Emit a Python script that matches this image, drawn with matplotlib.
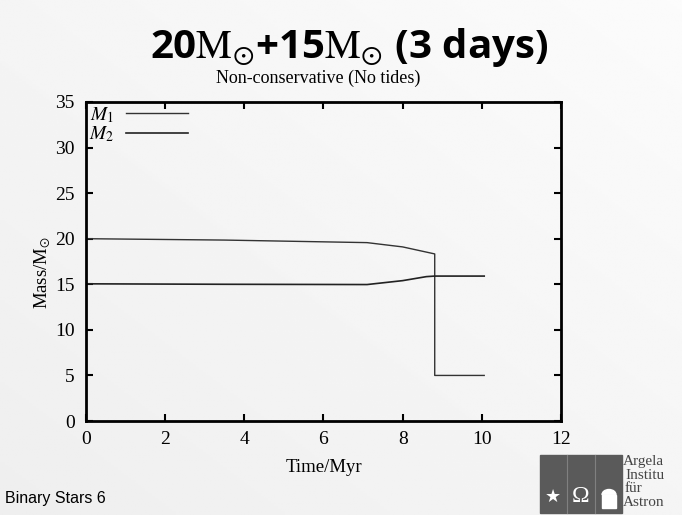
import numpy as np
import matplotlib
matplotlib.use("Agg")
import matplotlib.pyplot as plt
from matplotlib.patches import Rectangle, Wedge

# data
time_m1 = [0.0, 3.5, 7.1, 8.0, 8.81, 8.81, 8.9, 10.06]
mass_m1 = [20.0, 19.85, 19.57, 19.1, 18.33, 5.0, 5.0, 5.0]
time_m2 = [0.0, 3.5, 7.1, 8.0, 8.6, 8.81, 10.06]
mass_m2 = [15.05, 15.0, 14.97, 15.4, 15.84, 15.9, 15.9]
xticks = [0, 2, 4, 6, 8, 10, 12]
yticks = [0, 5, 10, 15, 20, 25, 30, 35]

serif = "Liberation Serif"
plt.rcParams['mathtext.fontset'] = 'stix'

fig = plt.figure(figsize=(6.82, 5.15), dpi=100)

# slide background (soft gradient)
bg = fig.add_axes([0, 0, 1, 1], zorder=-10)
gx, gy = np.meshgrid(np.linspace(0, 1, 200), np.linspace(0, 1, 200))
grad = 0.985 - 0.05 * (1 - gx) * 0.5 - 0.05 * gy * 0.5
bg.imshow(grad, cmap="gray", vmin=0, vmax=1, aspect="auto", extent=[0, 1, 0, 1])
bg.set_axis_off()

ax = fig.add_axes([0.126, 0.1825, 0.6966, 0.6195])
ax.patch.set_alpha(0)
ax.plot(time_m1, mass_m1, color="#333333", lw=1.0, label=r"$M_1$")
ax.plot(time_m2, mass_m2, color="#222222", lw=1.2, label=r"$M_2$")

ax.set_xlim(0, 12)
ax.set_ylim(0, 35)
ax.set_xticks(xticks)
ax.set_yticks(yticks)
ax.tick_params(direction="in", top=True, right=True, length=5, width=1.5,
               labelsize=14)
ax.tick_params(axis="x", pad=7)
ax.tick_params(axis="y", pad=8)
for lab in ax.get_xticklabels() + ax.get_yticklabels():
    lab.set_fontfamily(serif)
for sp in ax.spines.values():
    sp.set_linewidth(2)
ax.set_xlabel("Time/Myr", fontsize=13.5, family=serif, labelpad=8)
ax.set_ylabel(r"Mass/M$_{\odot}$", fontsize=13.5, family=serif)
ax.yaxis.set_label_coords(-0.07, 0.467)

leg = ax.legend(loc="upper left", markerfirst=False, frameon=False,
                fontsize=14, handlelength=3.2, handletextpad=0.6,
                borderaxespad=0.15, labelspacing=0.0, borderpad=0.0)

# title and subtitle
fig.text(0.512, 0.908, r"20$\mathrm{M}_{\odot}$+15$\mathrm{M}_{\odot}$ (3 days)",
         ha="center", va="center", fontsize=29, fontweight="bold",
         family="Open Sans")
fig.text(0.467, 0.848, "Non-conservative (No tides)", ha="center", va="center",
         fontsize=13, family=serif)

fig.text(0.008, 0.033, "Binary Stars 6", ha="left", va="center",
         fontsize=11.5, family="Liberation Sans")

# institute logo (bottom right)
logo = Rectangle((540 / 682, 0.004), 82 / 682, 58 / 515,
                 transform=fig.transFigure, color="#5a5a5a", zorder=5)
fig.patches.append(logo)
for xp in (567, 595):
    fig.add_artist(plt.Line2D([xp / 682, xp / 682], [0.004, 0.116],
                              color="#808080", lw=0.8, zorder=6))
fig.text(553 / 682, 0.035, "\u2605", color="white", fontsize=13,
         ha="center", va="center", zorder=7)
fig.text(581 / 682, 0.035, "\u03a9", color="white", fontsize=17,
         ha="center", va="center", family=serif, zorder=7)
fig.patches.append(Rectangle((602 / 682, 0.014), 14 / 682, 13 / 515,
                             transform=fig.transFigure, color="white", zorder=7))
fig.patches.append(Wedge((609 / 682, 0.014 + 13 / 515), 7 / 682, 0, 180,
                         transform=fig.transFigure, color="white", zorder=7))
for word, xp, yp in [("Argela", 623, 462), ("Institu", 625, 475.5),
                     ("für", 625, 489), ("Astron", 623, 502.5)]:
    fig.text(xp / 682, 1 - yp / 515, word, ha="left", va="center",
             fontsize=11, family=serif, color="#444444")

fig.savefig("out.png", dpi=100)
